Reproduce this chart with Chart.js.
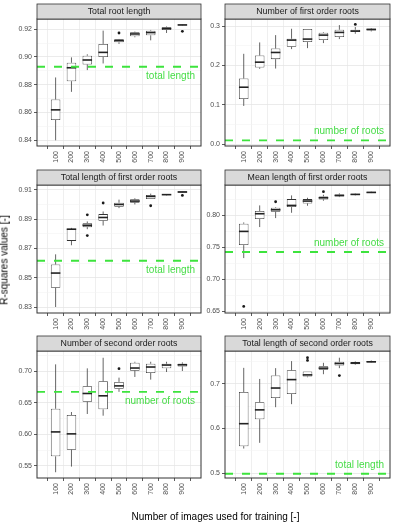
<!DOCTYPE html>
<html>
<head>
<meta charset="utf-8">
<script src="https://cdn.jsdelivr.net/npm/chart.js@4.4.0/dist/chart.umd.min.js"></script>
<style>
  body { margin: 0; background: #fff; width: 396px; height: 523px; position: relative; overflow: hidden;
         font-family: "Liberation Sans", Arial, sans-serif; }
  canvas { position: absolute; }
  #xtitle { position: absolute; left: 40px; width: 351px; top: 511px; text-align: center; font-size: 10px; color: #000; }
  #ytitle { position: absolute; left: 4px; top: 260px; width: 0; height: 0; }
  #ytitle span { position: absolute; white-space: nowrap; font-size: 10px; color: #000;
                 transform: translate(-50%, -50%) rotate(-90deg); }
</style>
</head>
<body>
<div id="panels"></div>
<div id="xtitle">Number of images used for training [-]</div>
<div id="ytitle"><span>R-squares values [-]</span></div>
<script>
const FONT = "'Liberation Sans', Arial, sans-serif";

const categories = ['100', '200', '300', '400', '500', '600', '700', '800', '900'];

const panelTitles = [
  'Total root length',
  'Number of first order roots',
  'Total length of first order roots',
  'Mean length of first order roots',
  'Number of second order roots',
  'Total length of second order roots'
];

// box stats per category: [lower whisker, Q1, median, Q3, upper whisker]
const totalRootLength = [
  [0.8398, 0.8545, 0.8618, 0.8693, 0.8852],
  [0.8748, 0.8825, 0.8922, 0.8958, 0.8997],
  [0.8905, 0.8946, 0.8978, 0.9009, 0.9019],
  [0.8953, 0.9000, 0.9033, 0.9094, 0.9190],
  [0.9094, 0.9106, 0.9118, 0.9128, 0.9130],
  [0.9142, 0.9149, 0.9166, 0.9178, 0.9183],
  [0.9120, 0.9156, 0.9176, 0.9190, 0.9195],
  [0.9173, 0.9195, 0.9205, 0.9215, 0.9220],
  [0.9226, 0.9229, 0.9231, 0.9234, 0.9236]
];
const firstOrderCount = [
  [0.0969, 0.1147, 0.1445, 0.1666, 0.2295],
  [0.1912, 0.1946, 0.2082, 0.2252, 0.2584],
  [0.1920, 0.2159, 0.2329, 0.2430, 0.2770],
  [0.2414, 0.2473, 0.2643, 0.2677, 0.2932],
  [0.2439, 0.2592, 0.2669, 0.2924, 0.2924],
  [0.2567, 0.2643, 0.2770, 0.2830, 0.2847],
  [0.2669, 0.2720, 0.2839, 0.2907, 0.3025],
  [0.2805, 0.2847, 0.2873, 0.2907, 0.2975],
  [0.2864, 0.2890, 0.2915, 0.2932, 0.2949]
];
const firstOrderLength = [
  [0.8300, 0.8431, 0.8532, 0.8591, 0.8660],
  [0.8722, 0.8752, 0.8832, 0.8834, 0.8841],
  [0.8832, 0.8846, 0.8859, 0.8873, 0.8885],
  [0.8857, 0.8889, 0.8912, 0.8935, 0.8953],
  [0.8976, 0.8985, 0.9001, 0.9013, 0.9034],
  [0.9001, 0.9013, 0.9024, 0.9036, 0.9043],
  [0.9038, 0.9038, 0.9056, 0.9066, 0.9075],
  [0.9063, 0.9066, 0.9068, 0.9070, 0.9072],
  [0.9080, 0.9082, 0.9086, 0.9091, 0.9093]
];
const firstOrderMean = [
  [0.7328, 0.7531, 0.7745, 0.7865, 0.7885],
  [0.7813, 0.7938, 0.8021, 0.8063, 0.8151],
  [0.7953, 0.8052, 0.8083, 0.8115, 0.8125],
  [0.8036, 0.8125, 0.8151, 0.8250, 0.8307],
  [0.8146, 0.8182, 0.8219, 0.8250, 0.8271],
  [0.8224, 0.8245, 0.8271, 0.8292, 0.8318],
  [0.8281, 0.8292, 0.8307, 0.8323, 0.8339],
  [0.8307, 0.8313, 0.8323, 0.8333, 0.8339],
  [0.8344, 0.8349, 0.8354, 0.8365, 0.8370]
];
const secondOrderCount = [
  [0.5401, 0.5652, 0.6038, 0.6404, 0.7105],
  [0.5490, 0.5756, 0.6007, 0.6305, 0.6352],
  [0.6321, 0.6514, 0.6645, 0.6760, 0.7042],
  [0.6294, 0.6394, 0.6608, 0.6838, 0.7209],
  [0.6671, 0.6718, 0.6765, 0.6828, 0.6895],
  [0.6906, 0.7005, 0.7047, 0.7131, 0.7146],
  [0.6864, 0.6969, 0.7063, 0.7115, 0.7146],
  [0.6984, 0.7042, 0.7094, 0.7115, 0.7146],
  [0.7000, 0.7073, 0.7099, 0.7115, 0.7136]
];
const secondOrderLength = [
  [0.5551, 0.5604, 0.6109, 0.6819, 0.7362],
  [0.5679, 0.6208, 0.6419, 0.6592, 0.7113],
  [0.6479, 0.6683, 0.6909, 0.7189, 0.7355],
  [0.6547, 0.6774, 0.7098, 0.7309, 0.7513],
  [0.7151, 0.7166, 0.7204, 0.7279, 0.7279],
  [0.7219, 0.7317, 0.7355, 0.7400, 0.7475],
  [0.7355, 0.7415, 0.7460, 0.7498, 0.7589],
  [0.7430, 0.7445, 0.7468, 0.7491, 0.7506],
  [0.7475, 0.7483, 0.7498, 0.7513, 0.7528]
];

// outliers: [category, value]
const outTotalRoot = [['500', 0.9173], ['900', 0.9185]];
const outFirstCount = [['800', 0.3042]];
const outFirstLength = [['300', 0.8930], ['300', 0.8788], ['400', 0.9011], ['700', 0.8992], ['900', 0.9063]];
const outFirstMean = [['100', 0.6573], ['300', 0.8208], ['600', 0.8365]];
const outSecondCount = [['500', 0.7037]];
const outSecondLength = [['500', 0.7589], ['500', 0.7528], ['700', 0.7189]];

// y tick labels per panel
const ticksTotalRoot = ['0.84', '0.86', '0.88', '0.90', '0.92'];
const ticksFirstCount = ['0.0', '0.1', '0.2', '0.3'];
const ticksFirstLength = ['0.83', '0.85', '0.87', '0.89', '0.91'];
const ticksFirstMean = ['0.65', '0.70', '0.75', '0.80'];
const ticksSecondCount = ['0.55', '0.60', '0.65', '0.70'];
const ticksSecondLength = ['0.5', '0.6', '0.7'];

const yRanges = [[0.8357, 0.9274], [-0.005, 0.318], [0.8259, 0.9134], [0.647, 0.847], [0.531, 0.7316], [0.489, 0.774]];

// dashed reference lines
const refValues = [0.8929, 0.0094, 0.8616, 0.7422, 0.6671, 0.4985];
const refLabels = ['total length', 'number of roots', 'total length', 'number of roots', 'number of roots', 'total length'];
const refSide = ['below', 'above', 'below', 'above', 'below', 'above'];

const panelStats = [totalRootLength, firstOrderCount, firstOrderLength, firstOrderMean, secondOrderCount, secondOrderLength];
const panelOutliers = [outTotalRoot, outFirstCount, outFirstLength, outFirstMean, outSecondCount, outSecondLength];
const panelTicks = [ticksTotalRoot, ticksFirstCount, ticksFirstLength, ticksFirstMean, ticksSecondCount, ticksSecondLength];

// layout
const colLeft = [0, 205], colWidth = [205, 191], yAxisW = [37, 20], padRight = [3, 6];
const plotTop = [19, 185, 351], plotBottom = [146, 313, 478];
const STRIP = 15, XAXIS_H = 20;

function makePanel(k) {
  const col = k % 2, row = Math.floor(k / 2);
  const stats = panelStats[k];
  const majors = panelTicks[k].map(Number);
  const [ymin, ymax] = yRanges[k];
  const step = majors[1] - majors[0];
  const yTicks = majors.map(v => ({ value: v, minor: false }));
  const mids = [majors[0] - step / 2];
  for (let i = 0; i < majors.length; i++) mids.push(majors[i] + step / 2);
  mids.filter(v => v > ymin && v < ymax).forEach(v => yTicks.push({ value: v, minor: true }));
  yTicks.sort((a, b) => a.value - b.value);

  const canvas = document.createElement('canvas');
  const h = plotBottom[row] - plotTop[row] + 19 + XAXIS_H;
  canvas.width = colWidth[col];
  canvas.height = h;
  canvas.style.left = colLeft[col] + 'px';
  canvas.style.top = (plotTop[row] - 19) + 'px';
  canvas.style.width = colWidth[col] + 'px';
  canvas.style.height = h + 'px';
  document.getElementById('panels').appendChild(canvas);

  const boxParts = {
    id: 'boxParts' + k,
    afterDatasetsDraw(chart) {
      const ctx = chart.ctx, y = chart.scales.y;
      const meta = chart.getDatasetMeta(0);
      ctx.save();
      meta.data.forEach((bar, i) => {
        const s = stats[i], x = bar.x, w = bar.width;
        ctx.strokeStyle = '#333';
        ctx.lineWidth = 0.75;
        ctx.beginPath();
        ctx.moveTo(x, y.getPixelForValue(s[0])); ctx.lineTo(x, y.getPixelForValue(s[1]));
        ctx.moveTo(x, y.getPixelForValue(s[3])); ctx.lineTo(x, y.getPixelForValue(s[4]));
        ctx.stroke();
        const ym = y.getPixelForValue(s[2]);
        ctx.strokeStyle = '#222';
        ctx.lineWidth = 1.6;
        ctx.beginPath();
        ctx.moveTo(x - w / 2, ym); ctx.lineTo(x + w / 2, ym);
        ctx.stroke();
      });
      // reference line + label
      const a = chart.chartArea;
      const yr = y.getPixelForValue(refValues[k]);
      ctx.strokeStyle = '#3de33d';
      ctx.lineWidth = 1.9;
      ctx.setLineDash([8, 9]);
      ctx.beginPath();
      ctx.moveTo(a.left, yr); ctx.lineTo(a.right, yr);
      ctx.stroke();
      ctx.setLineDash([]);
      ctx.fillStyle = '#45dc45';
      ctx.font = '10px ' + FONT;
      ctx.textAlign = 'right';
      ctx.textBaseline = 'middle';
      ctx.fillText(refLabels[k], a.right - 6, yr + (refSide[k] === 'below' ? 9 : -9));
      ctx.restore();
    },
    afterDraw(chart) {
      const ctx = chart.ctx, a = chart.chartArea;
      ctx.save();
      ctx.strokeStyle = '#333';
      ctx.lineWidth = 1;
      ctx.strokeRect(a.left, a.top, a.right - a.left, a.bottom - a.top);
      ctx.fillStyle = '#d9d9d9';
      ctx.fillRect(a.left, a.top - STRIP, a.right - a.left, STRIP);
      ctx.lineWidth = 0.8;
      ctx.strokeRect(a.left, a.top - STRIP, a.right - a.left, STRIP);
      ctx.fillStyle = '#1a1a1a';
      ctx.font = '8.8px ' + FONT;
      ctx.textAlign = 'center';
      ctx.textBaseline = 'middle';
      ctx.fillText(panelTitles[k], (a.left + a.right) / 2, a.top - STRIP / 2 + 0.5);
      ctx.restore();
    }
  };

  new Chart(canvas, {
    data: {
      datasets: [{
        type: 'bar',
        data: stats.map((s, i) => ({ x: i, y: [s[1], s[3]] })),
        backgroundColor: '#ffffff',
        borderColor: '#333',
        borderWidth: 0.8,
        borderSkipped: false,
        grouped: false,
        barPercentage: 0.6,
        categoryPercentage: 1,
        order: 2
      }, {
        type: 'scatter',
        data: panelOutliers[k].map(o => ({ x: categories.indexOf(o[0]), y: o[1] })),
        pointRadius: 1.4,
        pointBackgroundColor: '#1a1a1a',
        pointBorderWidth: 0,
        order: 1
      }]
    },
    options: {
      responsive: false,
      animation: false,
      layout: { padding: { top: 19, right: padRight[col], bottom: 0, left: 0 } },
      plugins: { legend: { display: false }, tooltip: { enabled: false } },
      scales: {
        x: {
          type: 'linear',
          min: -0.6, max: 8.6,
          afterBuildTicks: ax => { ax.ticks = categories.map((c, i) => ({ value: i })); },
          afterFit: ax => { ax.height = XAXIS_H; },
          border: { display: false },
          grid: { color: '#ebebeb', lineWidth: 0.8, tickLength: 3, tickColor: '#333', tickWidth: 0.8 },
          ticks: {
            autoSkip: false, minRotation: 90, maxRotation: 90, padding: 2,
            color: '#4d4d4d', font: { family: FONT, size: 7 },
            callback: v => categories[v]
          }
        },
        y: {
          min: ymin, max: ymax,
          afterBuildTicks: ax => { ax.ticks = yTicks.map(t => ({ value: t.value, minor: t.minor })); },
          afterFit: ax => { ax.width = yAxisW[col]; },
          border: { display: false },
          grid: {
            color: c => c.tick && c.tick.minor ? '#f3f3f3' : '#e6e6e6',
            lineWidth: c => c.tick && c.tick.minor ? 0.6 : 0.8,
            tickLength: 3,
            tickColor: c => c.tick && c.tick.minor ? 'rgba(0,0,0,0)' : '#333',
            tickWidth: 0.8
          },
          ticks: {
            autoSkip: false, padding: 2,
            color: '#4d4d4d', font: { family: FONT, size: 7 },
            callback: function (v) {
              const j = majors.findIndex(m => Math.abs(m - v) < 1e-9);
              return j >= 0 ? panelTicks[k][j] : '';
            }
          }
        }
      }
    },
    plugins: [boxParts]
  });
}

for (let k = 0; k < 6; k++) makePanel(k);
</script>
</body>
</html>
